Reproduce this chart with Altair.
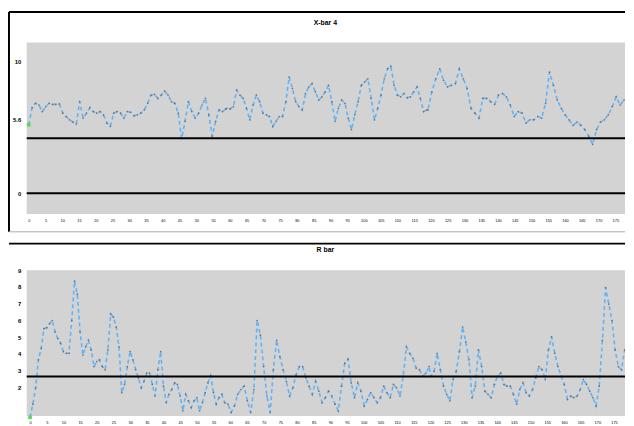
import altair as alt
import pandas as pd
import numpy as np

top_title = "X-bar 4"
bottom_title = "R bar"

# upper panel, read left to right in three stretches
top_seg1 = [5.20, 6.49, 6.82, 6.69, 6.19, 6.57, 6.82, 6.74, 6.74, 6.77, 6.07, 5.82, 5.57, 5.40, 5.25,
            6.94, 5.70, 6.07, 6.49, 6.19, 6.07, 6.19, 5.95, 5.32, 5.07, 6.07, 6.19, 6.07, 5.70, 6.19,
            6.14, 5.87, 5.95, 6.07, 6.32, 6.82, 7.44, 7.49, 7.19, 7.44, 7.74, 7.44, 6.94, 6.82, 6.07,
            4.15, 5.45, 6.94, 6.19, 5.70, 6.07, 6.69, 7.19, 5.95, 4.33, 5.45, 6.32, 6.19, 6.39]
top_seg2 = [6.44, 6.39, 6.57, 7.81, 7.44, 7.19, 6.44, 5.57, 6.69, 7.44, 6.94, 6.07, 5.95, 5.82, 5.07,
            5.45, 5.82, 5.82, 6.94, 8.81, 7.94, 6.94, 6.57, 6.32, 7.56, 8.06, 8.31, 7.69, 7.06, 7.31,
            7.69, 8.18, 6.94, 5.45, 6.44, 7.06, 6.82, 5.70, 4.83, 5.95, 6.94, 8.18, 8.43, 8.68, 7.19,
            5.57, 6.44, 7.44, 8.68, 9.43, 9.63, 8.18, 7.44, 7.31, 7.56, 7.24, 7.31, 7.69, 8.06, 7.19,
            6.19, 6.32]
top_seg3 = [6.32, 7.69, 8.68, 9.43, 8.56, 8.06, 8.18, 8.31, 9.43, 8.68, 7.94, 6.44, 6.07, 5.70, 7.19,
            7.19, 6.94, 6.74, 7.44, 7.56, 7.31, 6.69, 5.82, 6.19, 6.07, 5.32, 5.57, 5.57, 5.82, 5.70,
            6.82, 9.18, 8.18, 7.06, 6.44, 5.95, 5.57, 5.15, 5.40, 5.15, 4.83, 4.33, 3.71, 4.83, 5.40,
            5.57, 5.95, 6.57, 7.31, 6.69, 7.06]
top_spans = [(0.0, 58.8), (59.1, 118.8), (119.1, 177.6)]
top_limits = [4.18, 0.0]
top_ticks = [0, 5.6, 10]
top_domain = [-1.57, 11.42]
top_xdomain = [-0.6, 177.9]

# lower panel
bottom_seg1 = [0.22, 1.0, 1.98, 3.65, 4.33, 5.51, 5.57, 5.80, 6.0, 5.31, 4.92, 4.63, 4.14, 4.04, 4.04,
               6.0, 8.35, 7.57, 5.31, 3.94, 4.43, 4.82, 4.24, 3.25, 3.55, 3.65, 3.25, 3.06, 4.24, 6.39,
               6.20, 5.61, 4.43, 1.69, 2.18, 3.25, 4.14, 3.65, 3.06, 2.57, 1.98, 2.37, 2.86, 2.86, 2.18,
               1.49, 3.06, 4.14, 2.08, 1.10, 1.59, 1.88, 2.27, 2.18, 1.49, 0.61, 1.59, 1.20, 0.80, 1.20,
               1.39, 0.61, 1.10, 1.69, 2.27, 2.71, 1.69, 1.0, 1.39, 1.59, 1.10]
bottom_seg2 = [1.0, 0.51, 0.90, 1.59, 1.88, 2.08, 1.20, 0.51, 1.88, 6.0, 5.12, 3.25, 1.49, 0.51, 3.06,
               4.82, 3.84, 3.06, 2.37, 1.49, 1.98, 2.76, 3.25, 3.25, 2.57, 2.08, 1.59, 2.37, 1.78, 1.10,
               1.39, 1.78, 1.49, 1.0, 0.61, 2.08, 3.45, 3.69, 2.27, 1.39, 2.27, 1.78, 0.90, 1.29, 1.69,
               1.39, 1.10, 1.39, 2.08, 1.69, 1.39, 2.18, 1.98, 1.49, 2.67, 4.43, 4.04, 3.75, 3.16, 3.06,
               2.67, 2.86, 3.25]
bottom_seg3 = [2.67, 2.96, 4.04, 3.06, 2.08, 1.59, 1.20, 2.47, 2.96, 4.14, 5.61, 4.73, 3.65, 1.39, 2.08,
               4.24, 3.25, 1.78, 1.59, 1.39, 2.18, 2.67, 2.86, 2.18, 2.08, 2.08, 1.59, 1.0, 1.88, 2.27,
               1.69, 1.49, 1.88, 2.57, 3.25, 3.06, 2.47, 4.24, 5.02, 4.04, 3.25, 2.67, 2.18, 1.29, 1.49,
               1.39, 1.49, 1.88, 2.47, 2.18, 1.78, 1.39, 0.90, 2.08, 4.82, 7.96, 6.98, 6.0, 4.24, 3.25,
               3.06, 4.24]
bottom_spans = [(0.0, 58.3), (59.3, 119.6), (120.1, 178.2)]
bottom_limits = [2.65]
bottom_ticks = [2, 3, 4, 5, 6, 7, 8, 9]
bottom_domain = [0.29, 9.0]
bottom_xdomain = [-1.0, 178.3]

x_ticks = list(range(0, 180, 5))

BLUE = "#62b2f6"
FONT = "Liberation Sans"


def build(segs, spans):
    xs, ys = [], []
    for seg, (a, b) in zip(segs, spans):
        xs.extend(np.linspace(a, b, len(seg)).tolist())
        ys.extend(seg)
    return pd.DataFrame({"sample": xs, "value": ys, "first": [i == 0 for i in range(len(xs))]})


def panel(df, limits, ticks, ydom, xdom, title, h, frame_left, sep):
    one = pd.DataFrame({"k": [0]})
    xaxis = alt.Axis(values=x_ticks, labelFontSize=4, ticks=False, domain=False, grid=False,
                     labelPadding=5, title=None, labelColor="black", labelAngle=0,
                     labelFlush=False, labelOverlap=False, labelSeparation=0, labelFont=FONT)
    yaxis = alt.Axis(values=ticks, labelFontSize=6, ticks=False, domain=False, grid=False,
                     labelPadding=6, title=None, format=".1~f", labelFontWeight="bold",
                     labelOverlap=False, labelSeparation=0, labelFlush=False,
                     labelColor="black", labelFont=FONT)
    xs = alt.Scale(domain=xdom, nice=False, zero=False)
    ys = alt.Scale(domain=ydom, nice=False, zero=False)
    x = alt.X("sample:Q", scale=xs, axis=xaxis)
    y = alt.Y("value:Q", scale=ys, axis=yaxis)
    base = alt.Chart(df)
    line = base.mark_line(color=BLUE, strokeDash=[4, 3], strokeWidth=1.6, clip=True).encode(x=x, y=y)
    pts = base.mark_point(filled=True, color="#707070", size=3, opacity=1, clip=True).encode(x=x, y=y)
    first = base.transform_filter("datum.first").mark_square(color="#5fd35f", size=14, opacity=1).encode(
        x=x, y=y)
    lim = alt.Chart(pd.DataFrame({"limit": limits})).mark_rule(color="black", strokeWidth=2).encode(
        y=alt.Y("limit:Q", scale=ys, axis=yaxis))
    ttl = alt.Chart(one).mark_text(text=title, fontSize=7, fontWeight="bold", font=FONT,
                                   color="black").encode(x=alt.value(303), y=alt.value(-20))
    layers = [line, pts, first, lim, ttl]
    if frame_left:
        layers += [
            alt.Chart(one).mark_rule(color="black", strokeWidth=2).encode(
                x=alt.value(-18), y=alt.value(-31), y2=alt.value(192)),
            alt.Chart(one).mark_rule(color="black", strokeWidth=2).encode(
                x=alt.value(-18), x2=alt.value(607), y=alt.value(-31)),
            alt.Chart(one).mark_rule(color="#aaaaaa", strokeWidth=1).encode(
                x=alt.value(-18), x2=alt.value(607), y=alt.value(192)),
        ]
    if sep:
        layers += [
            alt.Chart(one).mark_rule(color="black", strokeWidth=2).encode(
                x=alt.value(-18), x2=alt.value(607), y=alt.value(-27)),
        ]
    return alt.layer(*layers).properties(width=607, height=h)


top_df = build([top_seg1, top_seg2, top_seg3], top_spans)
bottom_df = build([bottom_seg1, bottom_seg2, bottom_seg3], bottom_spans)

top = panel(top_df, top_limits, top_ticks, top_domain, top_xdomain, top_title, 174, True, False)
bottom = panel(bottom_df, bottom_limits, bottom_ticks, bottom_domain, bottom_xdomain, bottom_title, 148,
               False, True)

chart = alt.vconcat(top, bottom, spacing=10).configure_view(
    fill="#d3d3d3", strokeWidth=0).properties(padding=0, background="white")

chart.save("out.html", embed_options={"renderer": "svg", "actions": False})
